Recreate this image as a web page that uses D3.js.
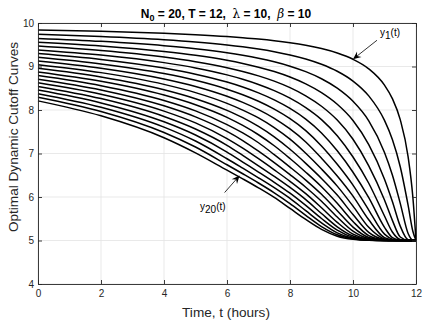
<!DOCTYPE html>
<html><head><meta charset="utf-8">
<script src="https://cdn.jsdelivr.net/npm/d3@7"></script>
<style>
body{margin:0;background:#fff}
svg{display:block}
text{font-family:"Liberation Sans",Arial,Helvetica,sans-serif}
</style>
</head><body>
<svg id="c" width="429" height="322"></svg>
<script>
// time grid (hours)
const t = [0, 2, 4, 5, 6, 6.5, 7, 7.5, 8, 8.5, 9, 9.5, 10, 10.5, 11, 11.25, 11.5, 11.75, 11.9, 12];
// optimal dynamic cutoff curves y_1(t) ... y_20(t)
const y1  = [9.839, 9.808, 9.762, 9.730, 9.688, 9.661, 9.630, 9.592, 9.545, 9.487, 9.412, 9.310, 9.167, 8.947, 8.571, 8.261, 7.778, 6.923, 6.000, 5.000];
const y2  = [9.739, 9.689, 9.615, 9.563, 9.495, 9.452, 9.402, 9.341, 9.266, 9.173, 9.052, 8.891, 8.665, 8.324, 7.761, 7.321, 6.696, 5.808, 5.212, 5.000];
const y3  = [9.646, 9.578, 9.478, 9.408, 9.316, 9.258, 9.190, 9.108, 9.007, 8.881, 8.719, 8.502, 8.200, 7.751, 7.025, 6.507, 5.854, 5.161, 5.007, 5.000];
const y4  = [9.557, 9.472, 9.346, 9.258, 9.143, 9.070, 8.985, 8.883, 8.757, 8.600, 8.398, 8.131, 7.758, 7.203, 6.410, 5.897, 5.331, 5.016, 5.002, 5.000];
const y5  = [9.469, 9.367, 9.217, 9.111, 8.973, 8.887, 8.785, 8.663, 8.513, 8.326, 8.086, 7.768, 7.327, 6.717, 5.932, 5.463, 5.081, 5.006, 5.000, 5.000];
const y6  = [9.382, 9.264, 9.089, 8.967, 8.807, 8.707, 8.588, 8.446, 8.273, 8.056, 7.780, 7.408, 6.919, 6.316, 5.563, 5.196, 5.024, 5.000, 5.000, 5.000];
const y7  = [9.297, 9.162, 8.963, 8.824, 8.642, 8.528, 8.393, 8.232, 8.035, 7.790, 7.473, 7.062, 6.569, 5.985, 5.302, 5.067, 5.011, 5.000, 5.000, 5.000];
const y8  = [9.212, 9.060, 8.838, 8.682, 8.478, 8.350, 8.200, 8.019, 7.800, 7.526, 7.173, 6.751, 6.273, 5.700, 5.146, 5.031, 5.004, 5.000, 5.000, 5.000];
const y9  = [9.127, 8.960, 8.713, 8.541, 8.315, 8.174, 8.008, 7.809, 7.564, 7.266, 6.893, 6.483, 6.020, 5.476, 5.065, 5.016, 5.001, 5.000, 5.000, 5.000];
const y10 = [9.043, 8.859, 8.589, 8.400, 8.153, 7.998, 7.817, 7.595, 7.329, 7.005, 6.643, 6.250, 5.791, 5.303, 5.036, 5.008, 5.000, 5.000, 5.000, 5.000];
const y11 = [8.959, 8.759, 8.466, 8.260, 7.991, 7.824, 7.622, 7.383, 7.097, 6.774, 6.427, 6.044, 5.597, 5.188, 5.021, 5.004, 5.000, 5.000, 5.000, 5.000];
const y12 = [8.875, 8.660, 8.343, 8.121, 7.831, 7.645, 7.431, 7.178, 6.884, 6.570, 6.236, 5.855, 5.437, 5.111, 5.012, 5.000, 5.000, 5.000, 5.000, 5.000];
const y13 = [8.792, 8.560, 8.219, 7.980, 7.665, 7.472, 7.247, 6.974, 6.687, 6.389, 6.062, 5.685, 5.309, 5.069, 5.007, 5.000, 5.000, 5.000, 5.000, 5.000];
const y14 = [8.708, 8.461, 8.096, 7.842, 7.508, 7.298, 7.053, 6.790, 6.514, 6.225, 5.902, 5.540, 5.215, 5.044, 5.003, 5.000, 5.000, 5.000, 5.000, 5.000];
const y15 = [8.625, 8.362, 7.975, 7.703, 7.343, 7.123, 6.880, 6.624, 6.361, 6.077, 5.753, 5.418, 5.146, 5.029, 5.001, 5.000, 5.000, 5.000, 5.000, 5.000];
const y16 = [8.542, 8.262, 7.851, 7.564, 7.189, 6.956, 6.718, 6.474, 6.219, 5.939, 5.620, 5.314, 5.102, 5.021, 5.000, 5.000, 5.000, 5.000, 5.000, 5.000];
const y17 = [8.459, 8.163, 7.729, 7.425, 7.034, 6.803, 6.574, 6.339, 6.088, 5.806, 5.506, 5.237, 5.072, 5.013, 5.000, 5.000, 5.000, 5.000, 5.000, 5.000];
const y18 = [8.376, 8.064, 7.607, 7.287, 6.879, 6.662, 6.442, 6.214, 5.967, 5.685, 5.406, 5.177, 5.051, 5.009, 5.000, 5.000, 5.000, 5.000, 5.000, 5.000];
const y19 = [8.293, 7.966, 7.484, 7.150, 6.741, 6.534, 6.322, 6.097, 5.849, 5.577, 5.320, 5.132, 5.038, 5.005, 5.000, 5.000, 5.000, 5.000, 5.000, 5.000];
const y20 = [8.210, 7.866, 7.362, 7.014, 6.616, 6.417, 6.211, 5.990, 5.737, 5.483, 5.254, 5.099, 5.027, 5.003, 5.000, 5.000, 5.000, 5.000, 5.000, 5.000];
const curves = [y1,y2,y3,y4,y5,y6,y7,y8,y9,y10,y11,y12,y13,y14,y15,y16,y17,y18,y19,y20];

const xTicks = [0, 2, 4, 6, 8, 10, 12];
const yTicks = [4, 5, 6, 7, 8, 9, 10];

const svg = d3.select("#c");
const X0 = 38, X1 = 416, Y0 = 284, Y1 = 23;
const x = d3.scaleLinear().domain([0, 12]).range([X0, X1]);
const y = d3.scaleLinear().domain([4, 10]).range([Y0, Y1]);
const axisCol = "#262626";
const fmt = d3.format("d");

svg.append("rect").attr("width", 429).attr("height", 322).attr("fill", "#fff");

// grid
const grid = svg.append("g").attr("stroke", "#e3e3e3").attr("stroke-width", 0.8);
grid.selectAll("line.gx").data(xTicks).join("line")
  .attr("x1", d => x(d)).attr("x2", d => x(d)).attr("y1", Y0).attr("y2", Y1);
grid.selectAll("line.gy").data(yTicks).join("line")
  .attr("x1", X0).attr("x2", X1).attr("y1", d => y(d)).attr("y2", d => y(d));

// curves
const line = d3.line().x((d, i) => x(t[i])).y(d => y(d)).curve(d3.curveMonotoneX);
svg.append("g").selectAll("path").data(curves).join("path")
  .attr("d", line).attr("fill", "none").attr("stroke", "#000")
  .attr("stroke-width", 1.5).attr("stroke-linejoin", "round");

// axes
function styleAxis(g) {
  g.selectAll("path.domain").attr("stroke", axisCol).attr("stroke-width", 0.9);
  g.selectAll(".tick line").attr("stroke", axisCol).attr("stroke-width", 0.9);
  g.selectAll(".tick text").attr("fill", axisCol).attr("font-size", 10)
    .attr("font-family", '"Liberation Sans",Arial,Helvetica,sans-serif');
}
svg.append("g").attr("transform", `translate(0,${Y0})`)
  .call(d3.axisBottom(x).tickValues(xTicks).tickFormat(fmt).tickSizeInner(-4).tickSizeOuter(0).tickPadding(6))
  .call(styleAxis);
svg.append("g").attr("transform", `translate(${X0},0)`)
  .call(d3.axisLeft(y).tickValues(yTicks).tickFormat(fmt).tickSizeInner(-4).tickSizeOuter(0).tickPadding(4))
  .call(styleAxis);
svg.append("g").attr("transform", `translate(0,${Y1})`)
  .call(d3.axisTop(x).tickValues(xTicks).tickSizeInner(-4).tickSizeOuter(0).tickFormat(""))
  .call(styleAxis);
svg.append("g").attr("transform", `translate(${X1},0)`)
  .call(d3.axisRight(y).tickValues(yTicks).tickSizeInner(-4).tickSizeOuter(0).tickFormat(""))
  .call(styleAxis);

// title
const title = svg.append("text").attr("x", 226).attr("y", 18).attr("text-anchor", "middle")
  .attr("font-size", 12).attr("font-weight", "bold").attr("fill", "#000")
  .style("white-space", "pre");
title.append("tspan").text("N");
title.append("tspan").attr("font-size", 9).attr("dy", 3).text("0");
title.append("tspan").attr("dy", -3).text(" = 20, T = 12,  ");
title.append("tspan").attr("font-family", '"DejaVu Serif",serif').attr("font-weight", "normal").text("λ");
title.append("tspan").text(" = 10,  ");
title.append("tspan").attr("font-family", '"DejaVu Serif",serif').attr("font-weight", "normal").attr("font-style", "italic").text("β");
title.append("tspan").text(" = 10");

// axis labels
svg.append("text").attr("x", 226).attr("y", 317).attr("text-anchor", "middle")
  .attr("font-size", 13.6).attr("fill", axisCol).text("Time, t (hours)");
svg.append("text").attr("transform", "translate(18,137) rotate(-90)").attr("text-anchor", "middle")
  .attr("font-size", 13.6).attr("fill", axisCol).text("Optimal Dynamic Cutoff Curves");

// annotations
function arrow(x0, y0, x1, y1) {
  const dx = x1 - x0, dy = y1 - y0, len = Math.hypot(dx, dy);
  const ux = dx / len, uy = dy / len, nx = -uy, ny = ux;
  const L = 8, w = 3.6;
  svg.append("line").attr("x1", x0).attr("y1", y0)
    .attr("x2", x1 - ux * L * 0.6).attr("y2", y1 - uy * L * 0.6)
    .attr("stroke", "#000").attr("stroke-width", 0.8);
  const p = [
    [x1, y1],
    [x1 - ux * L + nx * w, y1 - uy * L + ny * w],
    [x1 - ux * L * 0.65, y1 - uy * L * 0.65],
    [x1 - ux * L - nx * w, y1 - uy * L - ny * w]
  ];
  svg.append("path").attr("d", "M" + p.map(q => q.join(",")).join("L") + "Z").attr("fill", "#000");
}
// y1 arrow tip on curve 1 at t = 10
const tipA = [x(t[12]), y(y1[12])];
arrow(tipA[0] + 24, tipA[1] - 19, tipA[0], tipA[1]);
// y20 arrow tip on curve 20 near t = 6.4
const tipB = [x(6.4), y((y20[4] + y20[5]) / 2) + 1];
arrow(tipB[0] - 15, tipB[1] + 17, tipB[0], tipB[1]);

function label(px, py, sub) {
  const tx = svg.append("text").attr("x", px).attr("y", py).attr("font-size", 10).attr("fill", "#000");
  tx.append("tspan").text("y");
  tx.append("tspan").attr("dy", 3).text(sub);
  tx.append("tspan").attr("dy", -3).text("(t)");
}
label(380, 36, "1");
label(200, 210, "20");
</script>
</body></html>
